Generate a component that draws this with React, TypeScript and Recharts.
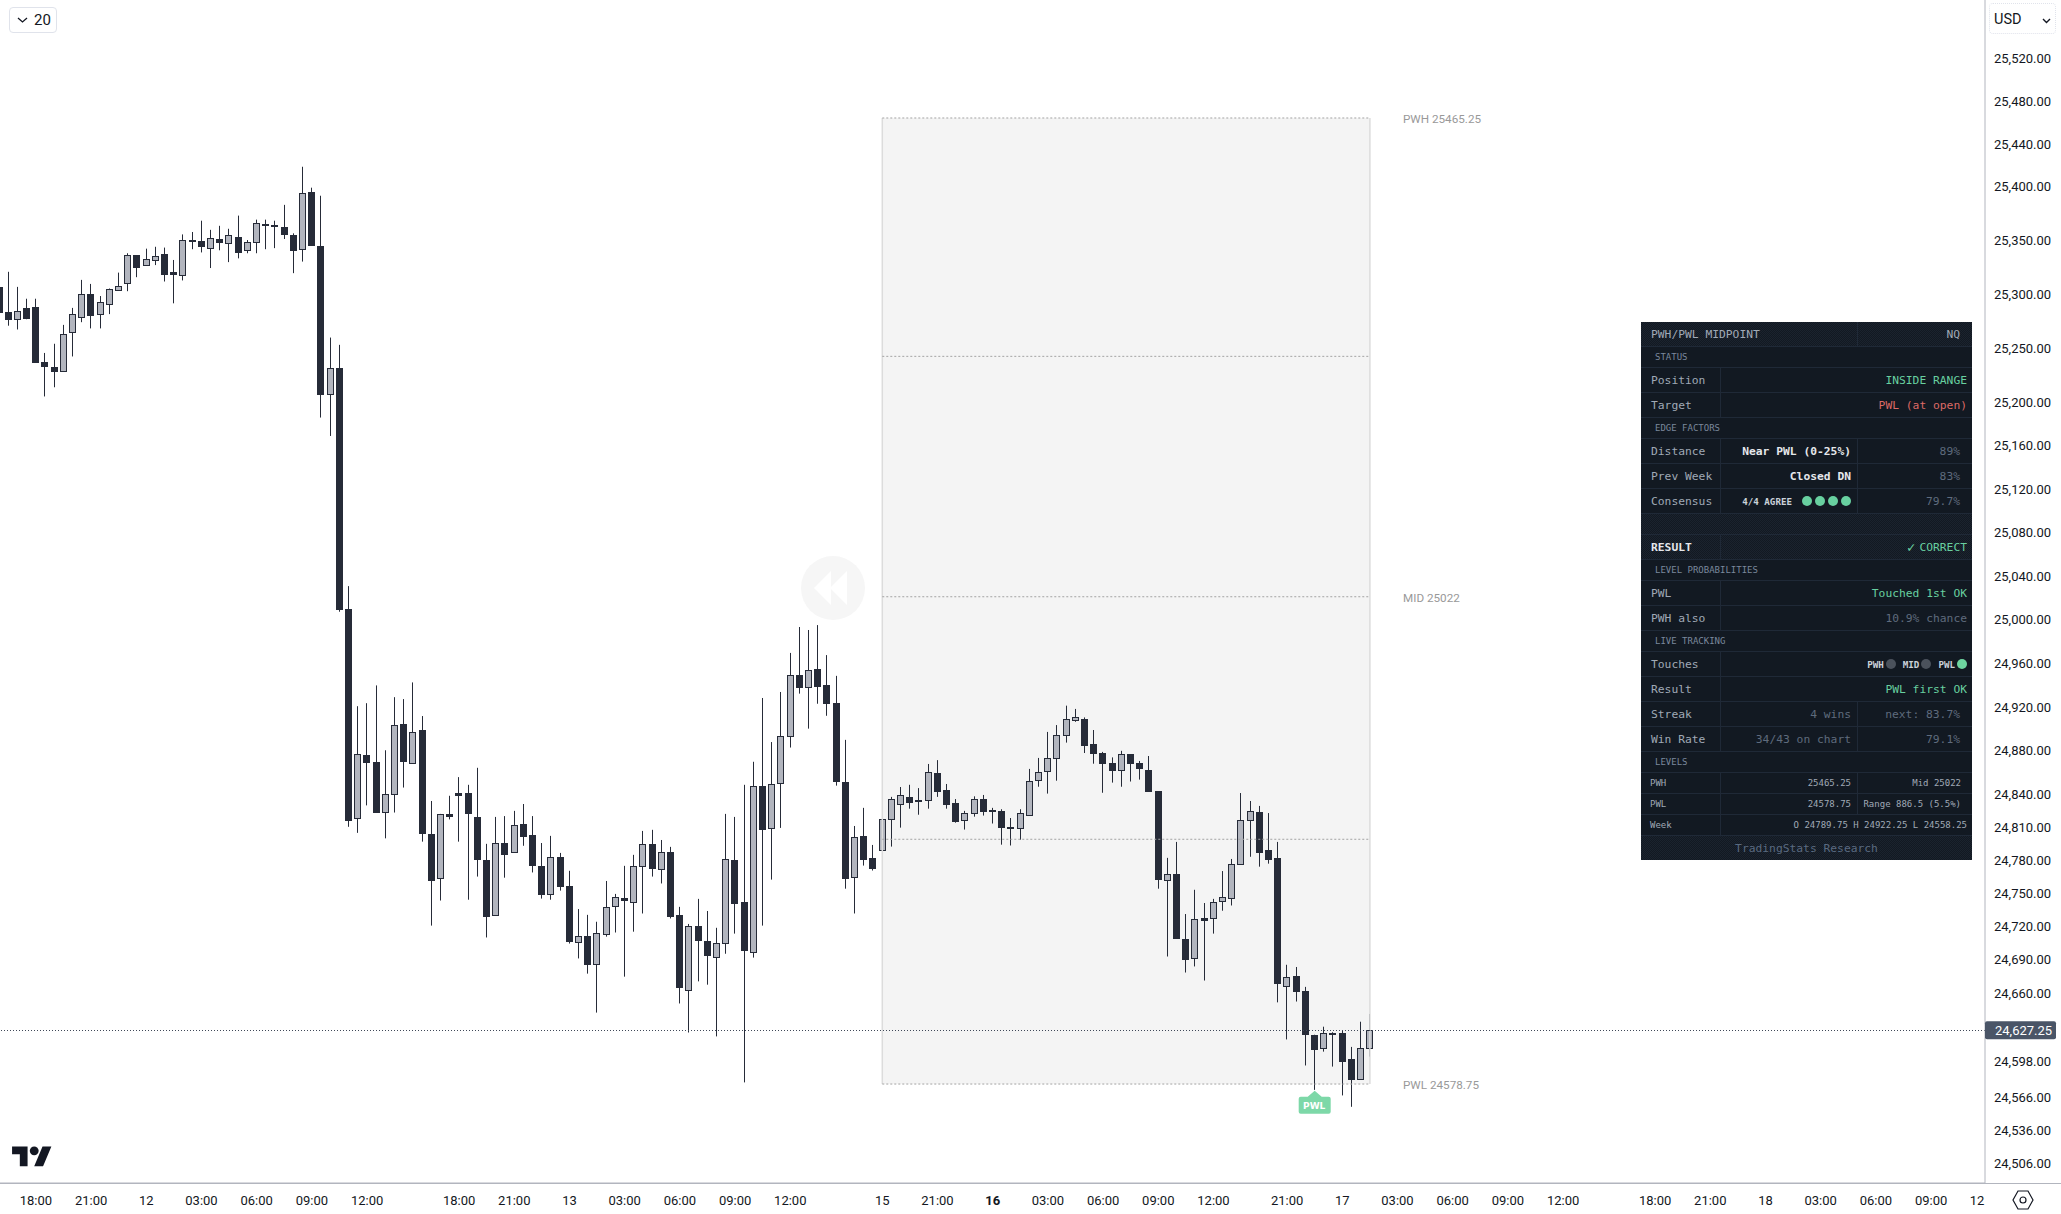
import React from 'react';
import { Bar, ComposedChart, ReferenceArea, ReferenceDot, ReferenceLine, XAxis, YAxis } from 'recharts';

const opens = [
  25308, 25284.75, 25279, 25288, 25289.5, 25238.75, 25233.5, 25230.5, 25265.75, 25280,
  25301.25, 25282.75, 25291.75, 25306, 25311.25, 25337.25, 25328.25, 25332.5, 25338.25, 25322,
  25318.75, 25351.5, 25350.5, 25344, 25352.5, 25348.75, 25354, 25342, 25349.5, 25366.75,
  25365.75, 25363.5, 25355.75, 25343, 25396, 25345.75, 25208.5, 25232.5, 25011, 24819.75,
  24877.5, 24871, 24825.25, 24842, 24905.75, 24870.5, 24900, 24805.25, 24765, 24823.5,
  24842.5, 24842.25, 24820.5, 24781.5, 24731.5, 24796.75, 24788.5, 24814, 24804, 24776,
  24750.5, 24784, 24757.75, 24708, 24712.25, 24687, 24714.25, 24739.5, 24746.75, 24743.25,
  24776, 24795.75, 24773, 24788.5, 24731.5, 24663.5, 24721.5, 24708, 24694.25, 24706,
  24781.5, 24743.25, 24698, 24848.75, 24811.25, 24851.5, 24894.25, 24950, 24939, 24955.5,
  24940.75, 24924.5, 24852.25, 24766, 24803.25, 24783, 24790.5, 24818.5, 24832.25, 24838.5,
  24836, 24836, 24860.5, 24845, 24833.25, 24817.5, 24824, 24836.75, 24826.75, 24826,
  24811.25, 24810.5, 24822.25, 24854, 24862.25, 24874, 24896, 24908.75, 24909.75, 24887,
  24878.75, 24869.5, 24863.25, 24877.75, 24869.5, 24863.25, 24844, 24763.25, 24768.5, 24709.75,
  24692.5, 24729, 24728.75, 24744, 24746.75, 24777.75, 24818.5, 24825, 24790.5, 24783,
  24667, 24676, 24662.5, 24623, 24611, 24624.75, 24624.5, 24601, 24583, 24611,
];
const highs = [
  25316, 25322, 25308, 25297, 25297, 25246.75, 25255.25, 25272.75, 25288.5, 25314.5,
  25310.75, 25299.5, 25306.5, 25321.25, 25339.25, 25337.5, 25343.5, 25345.25, 25344.5, 25333,
  25356.75, 25359, 25369.5, 25361, 25364.75, 25362, 25374.25, 25351.5, 25370.5, 25370.5,
  25369.5, 25384.25, 25357.75, 25419.75, 25400.25, 25392.75, 25261, 25254.25, 25031.75, 24921.75,
  24924.5, 24940.75, 24881.5, 24930, 24928.25, 24943.5, 24912.75, 24835.25, 24823.5, 24840,
  24857, 24850, 24865.5, 24796.25, 24820.75, 24821.5, 24826.25, 24832.5, 24821.5, 24797,
  24803.5, 24788, 24771.75, 24737, 24731.75, 24725.5, 24762.5, 24750.75, 24776.25, 24786.25,
  24808, 24809, 24799.75, 24793.5, 24739, 24723.5, 24746.25, 24735.25, 24720, 24823.5,
  24820.75, 24850, 24871, 24929.25, 24889, 24934.75, 24970.5, 24994.25, 24991.5, 24996,
  24968.5, 24949.5, 24891, 24812.5, 24829, 24795.25, 24835.25, 24839, 24848, 24850,
  24847, 24869, 24872.5, 24850.75, 24837, 24826.25, 24839.5, 24840.75, 24829, 24827.75,
  24819.75, 24827.75, 24864.5, 24874.5, 24898.25, 24904.5, 24922.25, 24919.25, 24911.5, 24900,
  24880, 24875, 24881, 24878, 24871.75, 24876.25, 24844.25, 24783.5, 24798, 24732.5,
  24754.5, 24742.5, 24746.25, 24771.5, 24782.5, 24842.5, 24835.25, 24830.75, 24824.25, 24798,
  24686.5, 24684.5, 24666.5, 24623.25, 24630.5, 24625.5, 24627.5, 24612.25, 24635, 24642,
];
const lows = [
  25276, 25272, 25268.5, 25278, 25238, 25206.5, 25215, 25229.75, 25243.5, 25275.25,
  25269.5, 25269.5, 25282.75, 25305, 25304, 25317, 25328, 25328.25, 25313, 25292.75,
  25314, 25343, 25340, 25325.5, 25342, 25331, 25334.5, 25339.25, 25339.25, 25343,
  25344, 25352.5, 25320.75, 25331.5, 25346.5, 25187, 25170, 25008.25, 24811.75, 24806.25,
  24831.25, 24824.75, 24801.25, 24824.75, 24847.5, 24870.25, 24798.25, 24722, 24744.75, 24818.5,
  24798.25, 24745.5, 24766.5, 24711.25, 24731, 24765.5, 24788.25, 24794.5, 24770.25, 24746.5,
  24745.5, 24753.75, 24705.75, 24692.25, 24678.5, 24643.25, 24712, 24715.75, 24675.75, 24716.5,
  24733, 24766.5, 24760.25, 24728.5, 24651.5, 24625.25, 24671.5, 24668.5, 24621.75, 24696.5,
  24714.75, 24580.25, 24693, 24722, 24763.75, 24810.75, 24884, 24933.25, 24901.25, 24924,
  24913, 24849.25, 24755.5, 24733, 24776.5, 24772, 24755.5, 24793.75, 24811, 24828.25,
  24822.75, 24828.25, 24839, 24828.25, 24815.5, 24809.25, 24821, 24822, 24814.75, 24795.5,
  24794.75, 24800, 24822, 24848.25, 24842, 24853.75, 24888.5, 24907.5, 24879, 24869.25,
  24842.75, 24852, 24848.25, 24853, 24854.75, 24843.5, 24755.5, 24694, 24710, 24679.5,
  24685, 24672.25, 24714.75, 24735.5, 24740.25, 24777.5, 24784.5, 24775.5, 24778.25, 24652.5,
  24619, 24653.25, 24595.5, 24573.5, 24608, 24594.5, 24568.5, 24558.25, 24582.75, 24603.5,
];
const closes = [
  25285, 25278, 25286, 25279, 25238.75, 25235.5, 25229.75, 25264.75, 25282.75, 25301.25,
  25281.75, 25293.75, 25306, 25309.25, 25337.25, 25326.5, 25333.5, 25336.25, 25319.75, 25319.75,
  25351.5, 25351.75, 25345.75, 25353.5, 25349.5, 25355.75, 25340, 25349.5, 25367, 25366.5,
  25365.5, 25356.75, 25342, 25395, 25346.75, 25208.5, 25232.5, 25010, 24818.25, 24878.25,
  24871, 24825.25, 24842, 24905, 24871.75, 24898.5, 24806, 24763.75, 24823.25, 24821.5,
  24841, 24823.75, 24782, 24731, 24796.75, 24786.5, 24813.25, 24803, 24776.5, 24750.25,
  24784, 24757.5, 24707.5, 24713, 24686.75, 24715, 24738.5, 24747.75, 24744.75, 24776,
  24795.75, 24773.75, 24788.5, 24730.25, 24666, 24721.5, 24708.5, 24695.75, 24706.5, 24782.25,
  24742, 24699.5, 24848.75, 24810, 24851, 24894.25, 24950, 24938.75, 24954.5, 24939.5,
  24924, 24853, 24764.75, 24802.25, 24782, 24773.75, 24818.5, 24836.75, 24840.5, 24833.75,
  24835.75, 24861.5, 24843.75, 24832, 24817.25, 24824, 24836.75, 24825.5, 24825.5, 24811,
  24811, 24824, 24853.25, 24861.5, 24874, 24895.25, 24910.5, 24911.5, 24885.75, 24878.5,
  24869.25, 24863, 24877.75, 24869.25, 24864.75, 24843.75, 24763.75, 24768.5, 24710.25, 24692,
  24727.75, 24727.5, 24743, 24747.5, 24777.75, 24817.5, 24826.5, 24788.25, 24782, 24669.5,
  24675.25, 24662.25, 24623.75, 24610, 24624.5, 24625, 24599, 24582.75, 24611, 24627.25,
];

const priceTicks = [
  25520, 25480, 25440, 25400, 25350, 25300, 25250, 25200, 25160, 25120, 25080, 25040, 25000, 24960,
  24920, 24880, 24840, 24810, 24780, 24750, 24720, 24690, 24660, 24627.25, 24598, 24566, 24536, 24506,
];
const timeTickBars = [
  4, 10, 16, 22, 28, 34, 40, 50, 56, 62, 68, 74, 80, 86, 96, 102, 108, 114, 120, 126, 132, 140, 146,
  152, 158, 164, 170, 180, 186, 192, 198, 204, 210, 215,
];
const timeTickLabels = [
  '18:00', '21:00', '12', '03:00', '06:00', '09:00', '12:00', '18:00', '21:00', '13', '03:00', '06:00',
  '09:00', '12:00', '15', '21:00', '16', '03:00', '06:00', '09:00', '12:00', '21:00', '17', '03:00',
  '06:00', '09:00', '12:00', '18:00', '21:00', '18', '03:00', '06:00', '09:00', '12',
];

const PWH = 25465.25;
const PWL = 24578.75;
const MID = 25022;
const Q1 = 25243.6;
const Q3 = 24800.4;
const LAST = 24627.25;
const BOX_START = 96;
const BOX_END = 149;

const DARK = '#262b38';
const LIGHT = '#b2b5be';
const GREEN = '#68d0a0';
const DIM = '#5f6b7d';
const LABEL = '#a0a9b6';
const PANEL_BG = '#121922';
const PANEL_LINE = '#1f2937';

const candles = opens.map((open, i) => ({
  bar: i,
  wick: [lows[i], highs[i]],
  body: [Math.min(open, closes[i]), Math.max(open, closes[i])],
  up: closes[i] > open,
}));

const WickShape = (props: any) => {
  const left = Math.round(props.x + props.width / 2 - 3.5);
  return <rect x={left + 3} y={props.y} width={1} height={props.height} fill={DARK} />;
};

const BodyShape = (props: any) => {
  const left = Math.round(props.x + props.width / 2 - 3.5);
  const top = Math.round(props.y);
  const h = Math.max(Math.round(props.height), 1);
  return (
    <rect
      x={left + 0.5}
      y={top + 0.5}
      width={6}
      height={h}
      fill={props.payload.up ? LIGHT : DARK}
      stroke={DARK}
      strokeWidth={1}
    />
  );
};

const PriceTick = ({ y, payload }: any) => {
  const text = payload.value.toLocaleString('en-US', { minimumFractionDigits: 2 });
  if (payload.value === LAST) {
    return (
      <g>
        <rect x={1985} y={y - 9} width={71} height={18} rx={2} fill="#4a5567" />
        <text x={1995} y={y + 4.5} fontSize={13} fontFamily="Roboto" fill="#fff">{text}</text>
      </g>
    );
  }
  return <text x={1994} y={y + 3.5} fontSize={13} fontFamily="Roboto" fill="#131722">{text}</text>;
};

const TimeTick = ({ x, y, payload, index }: any) => {
  const label = timeTickLabels[timeTickBars.indexOf(payload.value)] ?? timeTickLabels[index];
  return (
    <text
      x={x}
      y={y + 5.5}
      textAnchor="middle"
      fontSize={13}
      fontFamily="Roboto"
      fontWeight={label === '16' ? 700 : 400}
      fill="#131722"
    >
      {label}
    </text>
  );
};

const PwlMarker = ({ cx, cy }: any) => (
  <g transform="translate(-1 1)">
    <path
      d={`M${cx + 1} ${cy} L${cx + 8} ${cy + 6} H${cx + 15} Q${cx + 17} ${cy + 6} ${cx + 17} ${cy + 8} V${cy + 21} Q${cx + 17} ${cy + 23} ${cx + 15} ${cy + 23} H${cx - 13} Q${cx - 15} ${cy + 23} ${cx - 15} ${cy + 21} V${cy + 8} Q${cx - 15} ${cy + 6} ${cx - 13} ${cy + 6} H${cx - 6} Z`}
      fill="#7dd8a8"
    />
    <text x={cx + 0.5} y={cy + 18} textAnchor="middle" fontSize={9} fontFamily="DejaVu Sans" fontWeight={700} fill="#fff">PWL</text>
  </g>
);

const levelLabel = (value: string) => ({ value, position: 'right' as const, fill: '#999999', fontSize: 11.7, fontFamily: 'Roboto', offset: 0, dy: 1 });

const dither = `repeating-conic-gradient(#1b232e 0 25%, ${PANEL_BG} 0 50%) 0 0/2px 2px`;
const COL1 = 80;
const COL2 = 137;

const Cell = ({ w, color, align, size, bold, pad, children, noBorder }: any) => (
  <div
    style={{
      width: w,
      flex: w ? undefined : 1,
      boxSizing: 'border-box',
      color: color ?? LABEL,
      textAlign: align ?? 'right',
      fontSize: size ?? 11.3,
      fontWeight: bold ? 700 : 400,
      padding: `0 ${pad ?? 6}px 0 ${align === 'left' ? pad ?? 10 : 0}px`,
      borderRight: noBorder ? 'none' : `1px solid ${PANEL_LINE}`,
      whiteSpace: 'nowrap',
      display: 'flex',
      alignItems: 'center',
      justifyContent: align === 'left' ? 'flex-start' : 'flex-end',
      height: '100%',
    }}
  >
    {children}
  </div>
);

const Row = ({ h, bg, children }: any) => (
  <div style={{ height: h, display: 'flex', boxSizing: 'border-box', borderBottom: `1px solid ${PANEL_LINE}`, background: bg ?? PANEL_BG }}>
    {children}
  </div>
);

const Section = ({ title }: { title: string }) => (
  <Row h={21}>
    <div style={{ paddingLeft: 14, fontSize: 9, color: '#7a889c', lineHeight: '21px', whiteSpace: 'nowrap' }}>{title}</div>
  </Row>
);

const Dot = ({ color, gap }: { color: string; gap?: number }) => (
  <span style={{ display: 'inline-block', width: 10, height: 10, borderRadius: 5, background: color, marginLeft: gap ?? 3 }} />
);

const statRows = [
  ['Distance', 'Near PWL (0-25%)', '89%'],
  ['Prev Week', 'Closed DN', '83%'],
];
const levelRows = [
  ['PWH', '25465.25', 'Mid 25022'],
  ['PWL', '24578.75', 'Range 886.5 (5.5%)'],
];

const StatsPanel = () => (
  <div style={{ position: 'absolute', left: 1641, top: 322, width: 331, height: 538, fontFamily: '"DejaVu Sans Mono"', overflow: 'hidden', background: PANEL_BG }}>
    <Row h={25} bg={dither}>
      <Cell w={COL1 + COL2} align="left">PWH/PWL MIDPOINT</Cell>
      <Cell pad={12} noBorder>NQ</Cell>
    </Row>
    <Section title="STATUS" />
    <Row h={25}><Cell w={COL1} align="left">Position</Cell><Cell color={GREEN} pad={5} noBorder>INSIDE RANGE</Cell></Row>
    <Row h={25}><Cell w={COL1} align="left">Target</Cell><Cell color="#dd6a66" pad={5} noBorder>PWL (at open)</Cell></Row>
    <Section title="EDGE FACTORS" />
    {statRows.map((r) => (
      <Row h={25} key={r[0]}>
        <Cell w={COL1} align="left">{r[0]}</Cell>
        <Cell w={COL2} color="#e5e7eb" bold>{r[1]}</Cell>
        <Cell pad={12} color={DIM} noBorder>{r[2]}</Cell>
      </Row>
    ))}
    <Row h={25}>
      <Cell w={COL1} align="left">Consensus</Cell>
      <Cell w={COL2} color="#cbd2da" size={9.2} bold>
        4/4 AGREE<Dot color={GREEN} gap={10} /><Dot color={GREEN} /><Dot color={GREEN} /><Dot color={GREEN} />
      </Cell>
      <Cell pad={12} color={DIM} noBorder>79.7%</Cell>
    </Row>
    <Row h={21} bg={dither}><span /></Row>
    <Row h={25} bg={dither}>
      <Cell w={COL1} align="left" color="#e5e7eb" bold>RESULT</Cell>
      <Cell color={GREEN} pad={5} noBorder><span style={{ fontSize: 14, marginRight: 4 }}>✓</span>CORRECT</Cell>
    </Row>
    <Section title="LEVEL PROBABILITIES" />
    <Row h={25}><Cell w={COL1} align="left">PWL</Cell><Cell color={GREEN} pad={5} noBorder>Touched 1st OK</Cell></Row>
    <Row h={25}><Cell w={COL1} align="left">PWH also</Cell><Cell color={DIM} pad={5} noBorder>10.9% chance</Cell></Row>
    <Section title="LIVE TRACKING" />
    <Row h={25}>
      <Cell w={COL1} align="left">Touches</Cell>
      <Cell color="#cbd2da" size={9.2} bold pad={5} noBorder>
        PWH<Dot color="#4b525c" gap={2} /><span style={{ marginLeft: 7 }}>MID</span><Dot color="#4b525c" gap={2} />
        <span style={{ marginLeft: 7 }}>PWL</span><Dot color="#6ed5a0" gap={2} />
      </Cell>
    </Row>
    <Row h={25}><Cell w={COL1} align="left">Result</Cell><Cell color={GREEN} pad={5} noBorder>PWL first OK</Cell></Row>
    <Row h={25}>
      <Cell w={COL1} align="left">Streak</Cell>
      <Cell w={COL2} color={DIM}>4 wins</Cell>
      <Cell pad={12} color={DIM} noBorder>next: 83.7%</Cell>
    </Row>
    <Row h={25}>
      <Cell w={COL1} align="left">Win Rate</Cell>
      <Cell w={COL2} color={DIM}>34/43 on chart</Cell>
      <Cell pad={12} color={DIM} noBorder>79.1%</Cell>
    </Row>
    <Section title="LEVELS" />
    {levelRows.map((r) => (
      <Row h={21} key={r[0]}>
        <Cell w={COL1} align="left" size={9} pad={9}>{r[0]}</Cell>
        <Cell w={COL2} size={9}>{r[1]}</Cell>
        <Cell size={9} pad={11} noBorder>{r[2]}</Cell>
      </Row>
    ))}
    <Row h={21}>
      <Cell w={COL1} align="left" size={9} pad={9}>Week</Cell>
      <Cell size={9} pad={5} noBorder>O 24789.75 H 24922.25 L 24558.25</Cell>
    </Row>
    <div style={{ height: 25, background: dither, color: '#5a6a80', fontSize: 11.3, textAlign: 'center', lineHeight: '25px' }}>
      TradingStats Research
    </div>
  </div>
);

const App = () => (
  <div style={{ position: 'absolute', left: 0, top: 0, width: 2061, height: 1214, overflow: 'hidden', background: '#fff' }}>
    <ComposedChart width={2061} height={1214} data={candles} margin={{ top: 0, right: 0, bottom: 0, left: 0 }}>
      <XAxis
        xAxisId="body"
        dataKey="bar"
        type="number"
        domain={[0.0978, 215.86]}
        allowDataOverflow
        ticks={timeTickBars}
        interval={0}
        height={31}
        axisLine={{ stroke: '#b2b5be' }}
        tickLine={false}
        tickMargin={10}
        tick={<TimeTick />}
      />
      <XAxis xAxisId="wick" dataKey="bar" type="number" domain={[0.0978, 215.86]} allowDataOverflow hide />
      <YAxis
        yAxisId="price"
        orientation="right"
        scale="log"
        domain={[24489.7, 25575.7]}
        allowDataOverflow
        ticks={priceTicks}
        interval={0}
        width={76}
        axisLine={{ stroke: '#b2b5be' }}
        tickLine={false}
        tick={<PriceTick />}
      />
      <ReferenceArea xAxisId="body" yAxisId="price" x1={BOX_START} x2={BOX_END} y1={PWL} y2={PWH} fill="#f4f4f4" fillOpacity={1} stroke="none" />
      <ReferenceLine xAxisId="body" yAxisId="price" segment={[{ x: BOX_START, y: PWL }, { x: BOX_START, y: PWH }]} stroke="#dcdcdc" strokeWidth={1.5} />
      <ReferenceLine xAxisId="body" yAxisId="price" segment={[{ x: BOX_END, y: PWL }, { x: BOX_END, y: PWH }]} stroke="#dcdcdc" strokeWidth={1.5} />
      {[PWH, Q1, MID, Q3, PWL].map((level) => (
        <ReferenceLine
          key={level}
          xAxisId="body"
          yAxisId="price"
          segment={[{ x: BOX_START, y: level }, { x: BOX_END, y: level }]}
          stroke="#a3a3a3"
          strokeDasharray="2 2"
        />
      ))}
      <ReferenceLine xAxisId="body" yAxisId="price" y={LAST} stroke="#3f4858" strokeDasharray="1 2" shapeRendering="crispEdges" />
      <Bar xAxisId="wick" yAxisId="price" dataKey="wick" barSize={1} isAnimationActive={false} shape={<WickShape />} />
      <Bar xAxisId="body" yAxisId="price" dataKey="body" barSize={7} isAnimationActive={false} shape={<BodyShape />} />
      <ReferenceDot xAxisId="body" yAxisId="price" x={152.6} y={PWH} r={0} stroke="none" label={levelLabel('PWH 25465.25')} />
      <ReferenceDot xAxisId="body" yAxisId="price" x={152.6} y={MID} r={0} stroke="none" label={levelLabel('MID 25022')} />
      <ReferenceDot xAxisId="body" yAxisId="price" x={152.6} y={PWL} r={0} stroke="none" label={levelLabel('PWL 24578.75')} />
      <ReferenceDot xAxisId="body" yAxisId="price" x={143} y={lows[143]} shape={<PwlMarker />} />
    </ComposedChart>

    <div style={{ position: 'absolute', left: 0, top: 1183, width: 2061, height: 1, background: '#b2b5be' }} />

    <svg style={{ position: 'absolute', left: 801, top: 556 }} width={64} height={64}>
      <circle cx={32} cy={32} r={32} fill="#f6f6f6" />
      <path d="M30 15 L13 32 L30 49 Z M46 15 L29 32 L46 49 Z" fill="#fff" />
    </svg>

    <div style={{ position: 'absolute', left: 9, top: 7, width: 48, height: 26, boxSizing: 'border-box', border: '1px solid #e0e3eb', borderRadius: 4, fontFamily: 'Roboto', fontSize: 15, color: '#131722', lineHeight: '24px', paddingLeft: 24 }}>
      20
      <svg style={{ position: 'absolute', left: 7, top: 9 }} width={11} height={7}>
        <path d="M1 1 L5.5 5 L10 1" fill="none" stroke="#131722" strokeWidth={1.3} />
      </svg>
    </div>
    <div style={{ position: 'absolute', left: 1989, top: 3, width: 67, height: 31, boxSizing: 'border-box', border: '1px dotted #e0e3eb', borderRadius: 4, fontFamily: 'Roboto', fontSize: 14.5, color: '#131722', lineHeight: '32px', paddingLeft: 4 }}>
      USD
      <svg style={{ position: 'absolute', left: 52, top: 14 }} width={9} height={6}>
        <path d="M1 1 L4.5 4.5 L8 1" fill="none" stroke="#131722" strokeWidth={1.4} />
      </svg>
    </div>

    <svg style={{ position: 'absolute', left: 12, top: 1142 }} width={40} height={31} viewBox="0 0 36 28">
      <path d="M14 22H7V11H0V4h14v18zM28 22h-8l7.5-18h8L28 22z" fill="#131722" />
      <circle cx={20} cy={8} r={4} fill="#131722" />
    </svg>

    <svg style={{ position: 'absolute', left: 2011, top: 1189 }} width={24} height={22}>
      <path d="M7 2 H17 L22 11 L17 20 H7 L2 11 Z" fill="none" stroke="#131722" strokeWidth={1.2} />
      <circle cx={12} cy={11} r={3} fill="none" stroke="#131722" strokeWidth={1.2} />
    </svg>

    <StatsPanel />
  </div>
);

export default App;
